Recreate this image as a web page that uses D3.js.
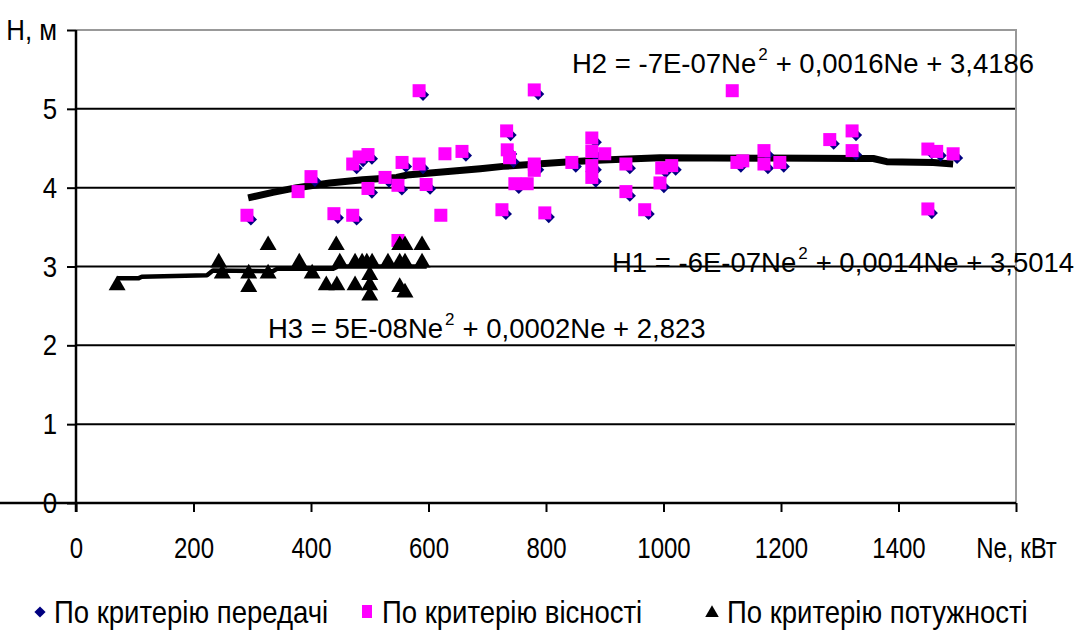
<!DOCTYPE html>
<html>
<head>
<meta charset="utf-8" />
<title>H vs Ne</title>
<script src="https://cdn.jsdelivr.net/npm/d3@7/dist/d3.min.js"></script>
<style>
html, body {
	margin: 0;
	background: #fff;
}
text {
	font-family: "Liberation Sans", Arial, sans-serif;
	fill: #000;
}
</style>
</head>
<body>
<svg id="chart" width="1083" height="637"></svg>
<script>

// --- data ---
// По критерію передачі (navy diamonds): [Ne, H]
var peredachi = [
	[296,3.61],[405,4.10],[444,3.63],[476,3.61],[476,4.26],[487,4.35],[502,4.38],[531,4.09],
	[502,3.95],[553,3.99],[560,4.28],[589,4.26],[601,4.00],[662,4.42],[589,5.19],
	[785,5.20],[738,4.68],[739,4.44],[743,4.34],[785,4.24],[752,4.01],[730,3.68],[803,3.64],
	[849,4.28],[883,4.59],[883,4.42],[883,4.24],[883,4.09],[941,4.26],[941,3.91],[973,3.68],
	[1002,4.21],[999,4.02],[1019,4.24],
	[1130,4.28],[1176,4.43],[1176,4.26],[1203,4.28],[1288,4.57],[1326,4.68],[1326,4.43],
	[1455,4.45],[1470,4.42],[1498,4.39],[1455,3.69]
];
// По критерію вісності (magenta squares)
var visnosti = [
	[291,3.65],[378,3.95],[400,4.14],[439,3.67],[471,3.65],[471,4.30],[482,4.39],[497,4.42],
	[526,4.13],[497,3.99],[548,4.03],[555,4.32],[584,4.30],[596,4.04],[621,3.65],[628,4.43],
	[657,4.46],[584,5.23],[548,3.33],
	[780,5.24],[733,4.72],[734,4.48],[738,4.38],[780,4.30],[780,4.22],[747,4.05],[768,4.05],
	[725,3.72],[798,3.68],[844,4.32],[878,4.63],[878,4.46],[878,4.28],[878,4.13],[900,4.43],
	[936,4.30],[936,3.95],[968,3.72],[997,4.25],[994,4.06],[1014,4.28],
	[1117,5.23],[1125,4.32],[1135,4.34],[1171,4.47],[1171,4.30],[1198,4.32],[1283,4.61],
	[1321,4.72],[1321,4.47],[1450,4.49],[1465,4.46],[1493,4.43],[1450,3.73]
];
// По критерію потужності (black triangles)
var potuzhnosti = [
	[70,2.76],[243,3.05],[249,2.91],[294,2.91],[294,2.74],[327,3.27],[327,2.91],[380,3.05],
	[402,2.91],[426,2.76],[444,2.76],[443,3.27],[449,3.05],[475,2.76],[475,3.05],[487,3.05],
	[495,3.05],[504,3.05],[500,2.89],[500,2.76],[500,2.63],[531,3.05],[551,3.27],[560,3.27],
	[551,3.05],[560,3.05],[551,2.74],[560,2.67],[589,3.27],[589,3.05]
];
// fitted curves H1/H2 (drawn over each other) and H3
var fit12 = [
	[293,3.87],[335,3.94],[376,4.00],[432,4.06],[488,4.10],[546,4.13],[563,4.16],[688,4.24],
	[727,4.27],[785,4.30],[841,4.33],[897,4.35],[994,4.38],[1329,4.37],[1357,4.37],[1380,4.33],
	[1459,4.32],[1493,4.30]
];
var fit3 = [
	[70,2.85],[106,2.85],[112,2.87],[223,2.89],[233,2.95],[335,2.94],[342,2.97],[437,2.97],
	[446,3.00],[597,3.00]
];

var xTicks = [0, 200, 400, 600, 800, 1000, 1200, 1400, 1600];
var yTicks = [0, 1, 2, 3, 4, 5, 6];
var xTitle = "Ne, кВт";
var yTitle = "Н, м";
var eqH1 = ["H1 = -6E-07Ne", "2", "+ 0,0014Ne + 3,5014"];
var eqH2 = ["H2 = -7E-07Ne", "2", "+ 0,0016Ne + 3,4186"];
var eqH3 = ["H3 = 5E-08Ne", "2", "+ 0,0002Ne + 2,823"];
var legendNames = ["По критерію передачі", "По критерію вісності", "По критерію потужності"];

// --- layout ---
var W = 1083, H = 637;
var margin = {top: 30, right: 67, bottom: 134, left: 76};
var svg = d3.select("#chart");

var x = d3.scaleLinear().domain([0, 1600]).range([margin.left, W - margin.right]);
var y = d3.scaleLinear().domain([0, 6]).range([H - margin.bottom, margin.top]);

// squeeze text horizontally, the picture uses a condensed face
function squeeze(sel, k) {
	sel.each(function() {
		var len = this.getComputedTextLength();
		d3.select(this).attr("textLength", len * k).attr("lengthAdjust", "spacingAndGlyphs");
	});
}

// grid lines
svg.append("g")
	.selectAll("line")
	.data([1, 2, 3, 4, 5])
	.join("line")
	.attr("x1", x(0)).attr("x2", x(1600))
	.attr("y1", d => y(d)).attr("y2", d => y(d))
	.attr("stroke", "#000").attr("stroke-width", 2);

// frame, top and right in grey
svg.append("path")
	.attr("d", "M" + x(0) + "," + y(6) + "H" + x(1600) + "V" + y(0))
	.attr("fill", "none").attr("stroke", "#999").attr("stroke-width", 2);

// axes
var xAxis = svg.append("g")
	.attr("transform", "translate(0," + y(0) + ")")
	.call(d3.axisBottom(x).tickValues(xTicks).tickSize(9).tickPadding(25)
		.tickFormat(d => d === 1600 ? xTitle : d));
var yAxis = svg.append("g")
	.attr("transform", "translate(" + x(0) + ",0)")
	.call(d3.axisLeft(y).tickValues(yTicks).tickSize(9).tickPadding(10)
		.tickFormat(d => d === 6 ? yTitle : d));

[xAxis, yAxis].forEach(function(g) {
	g.select(".domain").attr("stroke", "#000").attr("stroke-width", 2.5);
	g.selectAll(".tick line").attr("stroke", "#000").attr("stroke-width", 2);
	g.selectAll(".tick text").attr("font-size", 30).attr("font-family", "Liberation Sans, Arial, sans-serif");
});
yAxis.select(".domain").attr("d", "M0," + y(6) + "V" + (y(0) + 9));
xAxis.select(".domain").attr("d", "M0,0H" + x(1600));
squeeze(xAxis.selectAll(".tick text"), 0.8);
squeeze(yAxis.selectAll(".tick text"), 0.86);

// fitted lines
var line = d3.line().x(d => x(d[0])).y(d => y(d[1]));
svg.append("path").datum(fit12).attr("d", line)
	.attr("fill", "none").attr("stroke", "#000").attr("stroke-width", 7).attr("stroke-linejoin", "round");
svg.append("path").datum(fit3).attr("d", line)
	.attr("fill", "none").attr("stroke", "#000").attr("stroke-width", 4.5).attr("stroke-linejoin", "round");

// markers
var diamond = d3.symbol().type(d3.symbolDiamond2).size(95);
var tri = d3.symbol().type(d3.symbolTriangle).size(125);

svg.append("g").selectAll("path")
	.data(peredachi).join("path")
	.attr("transform", d => "translate(" + (x(d[0]) + 1) + "," + (y(d[1]) + 1) + ")")
	.attr("d", diamond).attr("fill", "#000080");

svg.append("g").selectAll("rect")
	.data(visnosti).join("rect")
	.attr("x", d => x(d[0]) - 6.5).attr("y", d => y(d[1]) - 6.5)
	.attr("width", 13).attr("height", 13)
	.attr("fill", "#ff00ff");

svg.append("g").selectAll("path")
	.data(potuzhnosti).join("path")
	.attr("transform", d => "translate(" + x(d[0]) + "," + y(d[1]) + ")")
	.attr("d", tri).attr("fill", "#000");

// equations: main text, raised "2", rest — as separate pieces side by side
function equation(parts, px, py) {
	var a = svg.append("text").attr("x", px).attr("y", py).attr("font-size", 27.5).text(parts[0]);
	var x1 = px + a.node().getComputedTextLength() + 2;
	var b = svg.append("text").attr("x", x1).attr("y", py - 13).attr("font-size", 17).text(parts[1]);
	var x2 = x1 + b.node().getComputedTextLength() + 8;
	svg.append("text").attr("x", x2).attr("y", py).attr("font-size", 27.5).text(parts[2]);
}
equation(eqH2, 572, 73);
equation(eqH1, 612, 272);
equation(eqH3, 268, 338);

// legend
var ly = 612;
var legendX = [54, 382, 727];
svg.append("path").attr("transform", "translate(40," + ly + ")")
	.attr("d", d3.symbol().type(d3.symbolDiamond2).size(80)).attr("fill", "#000080");
svg.append("rect").attr("x", 362).attr("y", ly - 7).attr("width", 10).attr("height", 13).attr("fill", "#ff00ff");
svg.append("path").attr("transform", "translate(712," + (ly + 1) + ")")
	.attr("d", d3.symbol().type(d3.symbolTriangle).size(80)).attr("fill", "#000");

var legendText = svg.append("g").selectAll("text")
	.data(legendNames).join("text")
	.attr("x", (d, i) => legendX[i]).attr("y", ly + 11)
	.attr("font-size", 32)
	.text(d => d);
squeeze(legendText, 0.86);

</script>
</body>
</html>
